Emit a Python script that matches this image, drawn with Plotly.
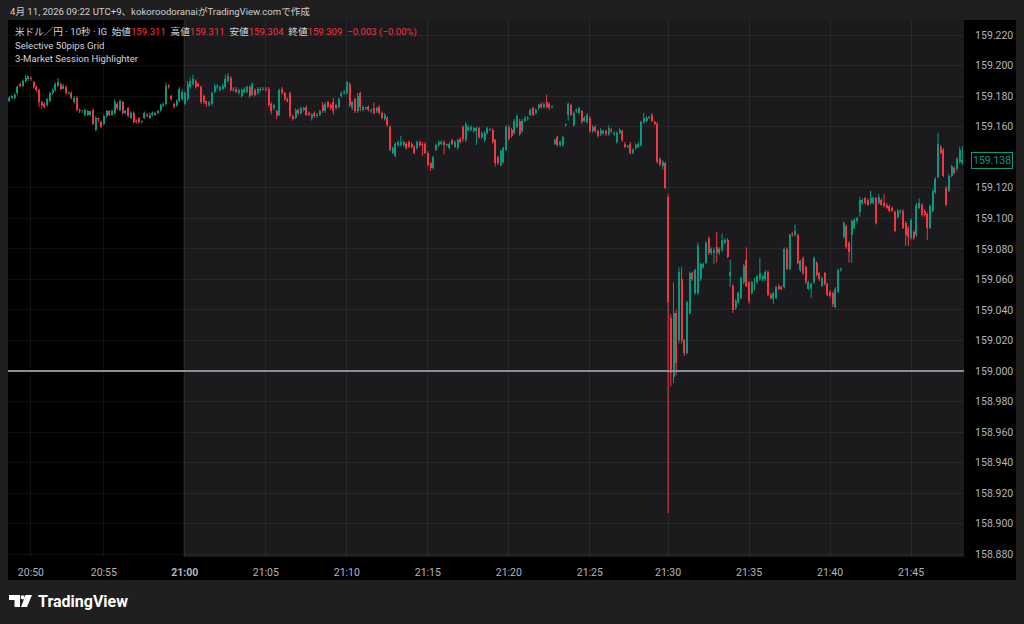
import plotly.graph_objects as go

# ---------------- data (prices in thousandths above 159.000) ----------------
PRICE_BASE = 159.000

opens_m = [177,179,179,182,188,187,190,191,192,189,186,184,176,175,174,177,182,184,187,188,
185,186,182,182,176,179,171,170,168,168,168,171,158,166,163,162,167,170,168,169,
175,171,176,169,172,166,169,164,166,163,166,168,166,168,168,169,171,174,175,187,
180,175,174,177,178,175,178,186,188,190,188,186,180,177,174,175,183,186,184,185,
186,190,192,184,185,182,180,183,183,186,181,184,182,184,185,185,185,175,172,170,
168,185,182,178,182,167,166,171,169,171,173,169,166,169,167,168,174,170,176,174,
176,174,173,180,182,182,188,172,178,170,182,171,172,173,170,172,170,173,169,165,
166,160,143,141,148,148,148,149,150,149,147,146,150,149,149,143,136,133,145,148,
149,150,148,146,151,147,146,152,160,151,158,158,157,157,159,153,151,156,158,158,
151,140,135,137,145,160,158,156,160,164,157,164,165,168,172,169,172,175,173,176,
175,173,149,153,148,148,161,168,174,161,170,169,170,164,163,166,157,160,157,155,
156,157,155,158,155,150,156,157,149,147,149,143,146,147,148,163,164,166,168,163,
162,139,134,136,114,35,-4,38,20,60,20,12,38,64,51,51,60,68,71,87,
77,77,81,77,79,84,86,62,56,41,45,48,58,73,58,51,54,58,60,60,
60,65,50,47,48,56,55,55,80,67,90,89,89,66,74,68,54,54,58,71,
64,56,64,57,52,51,42,52,66,88,95,84,89,94,98,104,110,113,112,110,
110,113,110,112,110,109,108,107,104,101,104,105,97,94,87,91,89,107,109,105,
103,94,105,117,127,147,145,120,118,128,133,132,137,136]

highs_m = [180,181,182,187,189,191,194,193,193,190,187,185,177,176,179,183,185,189,192,189,
188,187,183,183,180,180,172,171,172,171,170,172,167,166,164,168,171,171,171,178,
176,178,177,171,173,170,170,165,166,164,170,169,169,170,170,171,175,176,189,188,
181,176,178,186,185,183,190,192,194,191,189,187,181,177,177,183,188,188,187,188,
194,195,193,186,186,185,185,186,187,187,189,185,186,186,186,186,186,176,175,171,
185,186,183,179,183,168,172,172,173,173,174,170,169,170,169,171,176,176,177,175,
179,175,179,183,184,190,189,177,179,182,183,174,173,174,172,176,173,174,170,169,
167,161,147,150,151,154,151,150,151,150,148,151,151,150,150,144,137,141,149,151,
151,151,149,150,152,151,152,153,161,163,161,161,160,160,160,157,157,160,159,159,
152,141,145,147,161,161,159,165,168,165,165,167,167,172,173,172,175,176,176,181,
176,174,152,154,151,154,162,176,175,170,172,173,171,167,169,167,161,161,158,159,
158,158,161,159,157,157,159,158,150,148,150,146,149,150,164,169,167,167,169,164,
163,140,138,137,116,37,58,40,68,68,21,46,65,65,67,84,71,71,85,88,
81,81,91,81,90,87,87,73,57,47,52,62,70,81,59,59,61,63,74,63,
66,66,51,52,56,57,56,81,81,90,91,96,90,73,75,69,59,58,75,72,
65,62,65,58,53,52,55,67,68,98,96,85,99,100,101,114,113,114,113,118,
114,114,116,113,116,110,109,108,105,106,106,106,98,95,100,92,110,113,110,106,
104,109,119,127,156,148,146,121,129,135,134,140,147,147]

lows_m = [176,178,178,181,186,186,189,190,190,185,183,173,172,172,173,176,181,183,186,184,
185,181,181,178,175,170,169,169,167,167,167,161,157,163,159,161,166,167,167,168,
171,170,168,168,166,165,162,162,162,162,165,166,165,167,167,168,170,173,174,185,
177,172,173,176,177,174,177,185,187,185,186,175,175,173,173,174,182,185,183,184,
185,189,183,183,182,181,179,182,182,179,180,180,181,183,184,183,173,168,171,165,
167,181,177,176,166,164,165,168,168,170,167,167,164,166,166,167,169,169,172,171,
168,171,172,179,181,181,173,171,169,169,170,170,171,170,169,168,169,168,165,164,
160,144,142,140,147,147,147,145,146,146,142,145,147,141,142,134,131,132,144,147,
148,142,147,145,148,146,145,149,150,150,157,157,156,148,152,152,150,155,157,149,
134,135,134,136,144,151,153,155,159,154,156,163,164,167,167,168,171,172,172,172,
171,172,148,147,147,147,160,164,167,160,169,168,162,163,162,156,156,156,153,154,
155,154,154,156,154,149,155,150,146,146,142,142,145,146,147,162,163,165,163,161,
136,134,132,119,-93,-10,-8,-3,18,18,10,11,37,59,50,50,59,67,70,76,
76,70,71,76,78,83,74,55,38,40,44,47,57,55,44,50,53,57,59,59,
59,49,47,44,47,53,53,54,66,66,88,88,70,65,63,57,53,48,57,62,
59,55,56,49,48,42,41,51,65,87,80,71,71,93,97,101,109,109,108,109,
109,96,109,108,107,106,104,104,91,100,103,93,82,82,86,86,88,106,101,101,
86,93,104,116,126,142,127,108,117,127,129,131,136,135]

closes_m = [179,180,181,186,187,190,192,193,191,186,184,176,174,173,178,182,184,188,189,185,
187,182,182,179,179,171,170,170,171,170,170,162,166,165,160,167,170,168,170,176,
172,177,169,170,167,169,163,163,163,163,169,167,168,169,169,170,174,175,187,186,
178,173,177,185,183,182,188,190,191,186,187,176,176,175,176,182,187,187,186,187,
191,193,184,185,183,184,184,185,186,180,188,181,185,185,184,184,174,170,174,167,
184,182,178,177,167,165,171,169,172,172,168,168,168,167,168,170,170,175,173,172,
170,172,178,182,183,189,174,176,170,180,173,173,172,171,171,169,172,169,166,168,
161,145,146,149,150,150,150,146,147,147,143,150,148,148,143,135,133,140,148,150,
150,148,148,149,149,150,151,150,152,162,160,160,159,159,153,156,156,159,158,150,
136,136,144,146,160,152,154,164,167,155,164,166,166,171,168,171,174,173,175,173,
172,173,151,148,150,153,161,175,168,169,171,172,163,166,168,157,160,157,154,158,
157,155,159,157,156,156,158,151,147,147,143,145,148,149,163,166,166,166,164,162,
137,135,137,120,45,-1,38,5,65,20,12,45,64,60,66,82,70,70,84,77,
80,79,77,80,86,86,75,65,40,46,51,61,69,56,46,58,60,62,64,62,
65,50,48,51,55,54,54,80,67,89,89,92,71,72,64,58,58,57,74,63,
60,61,57,50,49,44,54,66,67,97,81,78,98,99,100,112,112,110,109,113,
113,97,114,109,108,107,105,105,92,105,105,94,89,88,99,87,109,110,102,102,
94,108,118,126,149,143,128,109,128,134,130,139,145,138]

# time-axis labels and the bar index each label falls on
tick_bar_index = [8, 35, 65, 95, 125, 155, 185, 215, 244, 274, 304, 334]
tick_labels = ["20:50", "20:55", "<b>21:00</b>", "21:05", "21:10", "21:15",
               "21:20", "21:25", "21:30", "21:35", "21:40", "21:45"]
# price-axis labels (159.140 is hidden behind the last-price tag)
price_ticks = [158.88, 158.90, 158.92, 158.94, 158.96, 158.98, 159.00, 159.02, 159.04,
               159.06, 159.08, 159.10, 159.12, 159.16, 159.18, 159.20, 159.22]
session_start_bar = 65          # 21:00 session highlight start
grid_level = 159.000            # Selective 50pips grid line

# ---------------- build ----------------
to_price = lambda arr: [round(PRICE_BASE + v / 1000.0, 3) for v in arr]
o, h, l, c = to_price(opens_m), to_price(highs_m), to_price(lows_m), to_price(closes_m)
n = len(o)
xs = list(range(n))

GREEN = "#089981"
RED = "#f23645"
FONT = "Roboto, Noto Sans CJK JP, sans-serif"

W, H = 1024, 624
ML, MR, MT, MB = 8, 60, 20, 67
PW, PH = W - ML - MR, H - MT - MB


def px(xp):
    return (xp - ML) / PW


def py(yp):
    return (H - MB - yp) / PH


x_lo, x_hi = -0.5, 353.6
y_lo, y_hi = 158.8782, 159.2299
MIN_BODY = 0.0006

up = [ci >= oi for oi, ci in zip(o, c)]
colors = [GREEN if u else RED for u in up]

fig = go.Figure()

# wicks
for is_up, col in ((True, GREEN), (False, RED)):
    wx, wy = [], []
    for i in range(n):
        if up[i] == is_up:
            wx += [xs[i], xs[i], None]
            wy += [l[i], h[i], None]
    fig.add_trace(go.Scatter(x=wx, y=wy, mode="lines", line=dict(color=col, width=1),
                             showlegend=False, hoverinfo="skip"))

# bodies
fig.add_trace(go.Bar(
    x=xs,
    base=[min(oi, ci) for oi, ci in zip(o, c)],
    y=[max(abs(ci - oi), MIN_BODY) for oi, ci in zip(o, c)],
    width=0.74, marker=dict(color=colors, line=dict(width=0)),
    showlegend=False, hoverinfo="skip",
))

shapes = [
    # session highlight (grey from 21:00)
    dict(type="rect", xref="x", yref="paper", x0=session_start_bar - 0.5, x1=x_hi,
         y0=0, y1=1, fillcolor="#1b1b1e", line=dict(width=0), layer="below"),
    # price axis band
    dict(type="rect", xref="paper", yref="paper", x0=1, x1=px(1016), y0=py(580), y1=1,
         fillcolor="#000000", line=dict(width=0), layer="below"),
    # time axis band
    dict(type="rect", xref="paper", yref="paper", x0=0, x1=px(1016), y0=py(580), y1=0,
         fillcolor="#000000", line=dict(width=0), layer="below"),
    # 159.000 grid line
    dict(type="line", xref="paper", yref="y", x0=0, x1=1, y0=grid_level, y1=grid_level,
         line=dict(color="#8d8d96", width=2), layer="above"),
    # TradingView logo
    dict(type="rect", xref="paper", yref="paper", x0=px(9), x1=px(20), y0=py(600), y1=py(595),
         fillcolor="#ffffff", line=dict(width=0)),
    dict(type="rect", xref="paper", yref="paper", x0=px(14.5), x1=px(20), y0=py(607), y1=py(595),
         fillcolor="#ffffff", line=dict(width=0)),
    dict(type="circle", xref="paper", yref="paper", x0=px(20.5), x1=px(24.8), y0=py(599.5), y1=py(595.2),
         fillcolor="#ffffff", line=dict(width=0)),
    dict(type="path", xref="paper", yref="paper",
         path=f"M {px(25.5)} {py(595)} L {px(32)} {py(595)} L {px(27)} {py(607)} L {px(21)} {py(607)} Z",
         fillcolor="#ffffff", line=dict(width=0)),
]

nb = "\u00a0"
val = lambda s: f"<span style='color:{RED}'>{s}</span>"
header = (f"米ドル／円 · 10秒 · IG{nb}{nb}始値{val('159.311')}{nb}{nb}高値{val('159.311')}"
          f"{nb}{nb}安値{val('159.304')}{nb}{nb}終値{val('159.309')}{nb}{nb}{val('−0.003 (−0.00%)')}")

TXT = 9.6
ann_font = dict(family=FONT, size=TXT, color="#d1d4dc")
annotations = [
    dict(text="4月 11, 2026 09:22 UTC+9、kokoroodoranaiがTradingView.comで作成",
         xref="paper", yref="paper", x=px(8), y=py(11), xanchor="left", yanchor="middle",
         showarrow=False, font=dict(family=FONT, size=TXT, color="#cfcfcf")),
    dict(text=header, xref="paper", yref="paper", x=px(13), y=py(32), xanchor="left",
         yanchor="middle", showarrow=False, font=ann_font),
    dict(text="Selective 50pips Grid", xref="paper", yref="paper", x=px(13), y=py(45),
         xanchor="left", yanchor="middle", showarrow=False, font=ann_font),
    dict(text="3-Market Session Highlighter", xref="paper", yref="paper", x=px(13), y=py(58),
         xanchor="left", yanchor="middle", showarrow=False, font=ann_font),
    dict(text=f"{c[-1]:.3f}", xref="paper", yref="y", x=px(971), y=c[-1], xanchor="left",
         yanchor="middle", showarrow=False, font=dict(family=FONT, size=10.5, color=GREEN),
         bordercolor=GREEN, borderwidth=1, borderpad=1, bgcolor="#000000"),
    dict(text="<b>TradingView</b>", xref="paper", yref="paper", x=px(36), y=py(601),
         xanchor="left", yanchor="middle", showarrow=False,
         font=dict(family=FONT, size=16, color="#ffffff")),
]

fig.update_layout(
    width=W, height=H,
    margin=dict(l=ML, r=MR, t=MT, b=MB),
    paper_bgcolor="#1f1f1f", plot_bgcolor="#000000",
    barmode="overlay", bargap=0,
    shapes=shapes, annotations=annotations,
    xaxis=dict(range=[x_lo, x_hi], tickmode="array", tickvals=tick_bar_index, ticktext=tick_labels,
               showgrid=True, gridcolor="rgba(255,255,255,0.06)", gridwidth=1, zeroline=False,
               showline=False, ticks="outside", ticklen=5, tickcolor="rgba(0,0,0,0)",
               tickfont=dict(family=FONT, size=10.5, color="#b2b5be"), fixedrange=True),
    yaxis=dict(range=[y_lo, y_hi], side="right", tickmode="array", tickvals=price_ticks,
               tickformat=".3f",
               showgrid=True, gridcolor="rgba(255,255,255,0.06)", gridwidth=1, zeroline=False,
               showline=False, ticks="outside", ticklen=8, tickcolor="rgba(0,0,0,0)",
               tickfont=dict(family=FONT, size=10.5, color="#b2b5be"), fixedrange=True),
    hovermode=False,
)

fig.write_html("out.html", config={"displayModeBar": False, "staticPlot": True},
               post_script="document.body.style.margin='0';")
